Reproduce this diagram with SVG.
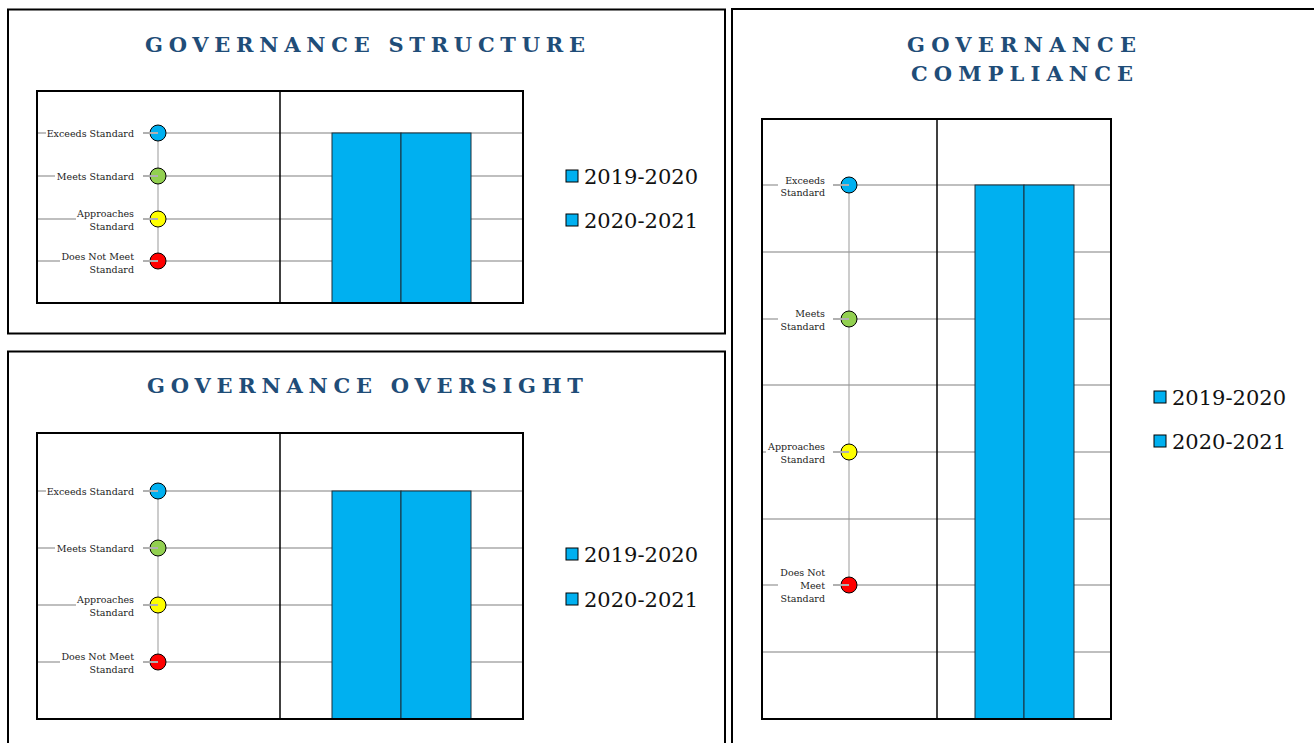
<svg xmlns="http://www.w3.org/2000/svg" width="1314" height="743" viewBox="0 0 1314 743">
<style>
.panel{fill:#fff;stroke:#000;stroke-width:2}
.box{fill:none;stroke:#000;stroke-width:2}
.div{stroke:#000;stroke-width:1.5}
.grid{stroke:#bfbfbf;stroke-width:2}
.conn{stroke:#999;stroke-width:1}
.lead{stroke:#b0b0b0;stroke-width:2}
.title{font-family:"DejaVu Serif","Liberation Serif",serif;font-weight:bold;font-size:21px;fill:#1f4d78;text-anchor:middle}
.lbl{font-family:"DejaVu Serif","Liberation Serif",serif;font-size:9.5px;fill:#222;text-anchor:end}
.leg{font-family:"DejaVu Serif","Liberation Serif",serif;font-size:21px;fill:#111}
.bar{fill:#00b0f0;stroke:#1a2e3a;stroke-width:1}
.sw{fill:#00b0f0;stroke:#000;stroke-width:1}
.dot{stroke:#000;stroke-width:1}
.bg{fill:#fff}
</style>
<rect width="1314" height="743" fill="#fff"/>

<g id="panel-structure">
<rect class="panel" x="8" y="9.5" width="717" height="324"/>
<text class="title" x="365" y="52" textLength="440" lengthAdjust="spacing">GOVERNANCE STRUCTURE</text>
<line class="grid" x1="37" y1="133" x2="523" y2="133"/>
<line class="grid" x1="37" y1="176" x2="523" y2="176"/>
<line class="grid" x1="37" y1="219" x2="523" y2="219"/>
<line class="grid" x1="37" y1="261" x2="523" y2="261"/>
<rect class="bg" x="46" y="126" width="97" height="14"/>
<rect class="bg" x="55" y="169" width="88" height="14"/>
<rect class="bg" x="76" y="207" width="67" height="26"/>
<rect class="bg" x="60" y="249" width="83" height="26"/>
<text class="lbl" x="134" y="137">Exceeds Standard</text>
<text class="lbl" x="134" y="180">Meets Standard</text>
<text class="lbl" x="134" y="217">Approaches</text>
<text class="lbl" x="134" y="230">Standard</text>
<text class="lbl" x="134" y="260">Does Not Meet</text>
<text class="lbl" x="134" y="273">Standard</text>
<line class="conn" x1="158" y1="133" x2="158" y2="261"/>
<circle class="dot" cx="158" cy="133" r="8" fill="#00b0f0"/>
<circle class="dot" cx="158" cy="176" r="8" fill="#92d050"/>
<circle class="dot" cx="158" cy="219" r="8" fill="#ffff00"/>
<circle class="dot" cx="158" cy="261" r="8" fill="#ff0000"/>
<line class="lead" x1="143" y1="133" x2="158" y2="133"/>
<line class="lead" x1="143" y1="176" x2="158" y2="176"/>
<line class="lead" x1="143" y1="219" x2="158" y2="219"/>
<line class="lead" x1="143" y1="261" x2="158" y2="261"/>
<rect class="bar" x="332" y="133" width="69" height="170"/>
<rect class="bar" x="401" y="133" width="70" height="170"/>
<line class="div" x1="280" y1="91" x2="280" y2="303"/>
<rect class="box" x="37" y="91" width="486" height="212"/>
<rect class="sw" x="566" y="170" width="12" height="12"/>
<text class="leg" x="584" y="184" textLength="114" lengthAdjust="spacingAndGlyphs">2019-2020</text>
<rect class="sw" x="566" y="214" width="12" height="12"/>
<text class="leg" x="584" y="228" textLength="114" lengthAdjust="spacingAndGlyphs">2020-2021</text>
</g>

<g id="panel-oversight">
<rect class="panel" x="8" y="351.5" width="717" height="400"/>
<text class="title" x="365" y="393" textLength="436" lengthAdjust="spacing">GOVERNANCE OVERSIGHT</text>
<line class="grid" x1="37" y1="491" x2="523" y2="491"/>
<line class="grid" x1="37" y1="548" x2="523" y2="548"/>
<line class="grid" x1="37" y1="605" x2="523" y2="605"/>
<line class="grid" x1="37" y1="662" x2="523" y2="662"/>
<rect class="bg" x="46" y="484" width="97" height="14"/>
<rect class="bg" x="55" y="541" width="88" height="14"/>
<rect class="bg" x="76" y="593" width="67" height="26"/>
<rect class="bg" x="60" y="650" width="83" height="26"/>
<text class="lbl" x="134" y="495">Exceeds Standard</text>
<text class="lbl" x="134" y="552">Meets Standard</text>
<text class="lbl" x="134" y="603">Approaches</text>
<text class="lbl" x="134" y="616">Standard</text>
<text class="lbl" x="134" y="660">Does Not Meet</text>
<text class="lbl" x="134" y="673">Standard</text>
<line class="conn" x1="158" y1="491" x2="158" y2="662"/>
<circle class="dot" cx="158" cy="491" r="8" fill="#00b0f0"/>
<circle class="dot" cx="158" cy="548" r="8" fill="#92d050"/>
<circle class="dot" cx="158" cy="605" r="8" fill="#ffff00"/>
<circle class="dot" cx="158" cy="662" r="8" fill="#ff0000"/>
<line class="lead" x1="143" y1="491" x2="158" y2="491"/>
<line class="lead" x1="143" y1="548" x2="158" y2="548"/>
<line class="lead" x1="143" y1="605" x2="158" y2="605"/>
<line class="lead" x1="143" y1="662" x2="158" y2="662"/>
<rect class="bar" x="332" y="491" width="69" height="228"/>
<rect class="bar" x="401" y="491" width="70" height="228"/>
<line class="div" x1="280" y1="433" x2="280" y2="719"/>
<rect class="box" x="37" y="433" width="486" height="286"/>
<rect class="sw" x="566" y="548" width="12" height="12"/>
<text class="leg" x="584" y="562" textLength="114" lengthAdjust="spacingAndGlyphs">2019-2020</text>
<rect class="sw" x="566" y="593" width="12" height="12"/>
<text class="leg" x="584" y="607" textLength="114" lengthAdjust="spacingAndGlyphs">2020-2021</text>
</g>

<g id="panel-compliance">
<rect class="panel" x="732" y="9" width="600" height="750"/>
<text class="title" x="1021.5" y="52" textLength="229" lengthAdjust="spacing">GOVERNANCE</text>
<text class="title" x="1022" y="81" textLength="222" lengthAdjust="spacing">COMPLIANCE</text>
<line class="grid" x1="762" y1="185" x2="1111" y2="185"/>
<line class="grid" x1="762" y1="252" x2="1111" y2="252"/>
<line class="grid" x1="762" y1="319" x2="1111" y2="319"/>
<line class="grid" x1="762" y1="385" x2="1111" y2="385"/>
<line class="grid" x1="762" y1="452" x2="1111" y2="452"/>
<line class="grid" x1="762" y1="519" x2="1111" y2="519"/>
<line class="grid" x1="762" y1="585" x2="1111" y2="585"/>
<line class="grid" x1="762" y1="652" x2="1111" y2="652"/>
<rect class="bg" x="778" y="174" width="56" height="24"/>
<rect class="bg" x="778" y="307" width="56" height="24"/>
<rect class="bg" x="766" y="440" width="68" height="24"/>
<rect class="bg" x="778" y="566" width="56" height="38"/>
<text class="lbl" x="825" y="184">Exceeds</text>
<text class="lbl" x="825" y="196">Standard</text>
<text class="lbl" x="825" y="317">Meets</text>
<text class="lbl" x="825" y="330">Standard</text>
<text class="lbl" x="825" y="450">Approaches</text>
<text class="lbl" x="825" y="463">Standard</text>
<text class="lbl" x="825" y="576">Does Not</text>
<text class="lbl" x="825" y="589">Meet</text>
<text class="lbl" x="825" y="602">Standard</text>
<line class="conn" x1="849" y1="185" x2="849" y2="585"/>
<circle class="dot" cx="849" cy="185" r="8" fill="#00b0f0"/>
<circle class="dot" cx="849" cy="319" r="8" fill="#92d050"/>
<circle class="dot" cx="849" cy="452" r="8" fill="#ffff00"/>
<circle class="dot" cx="849" cy="585" r="8" fill="#ff0000"/>
<line class="lead" x1="833" y1="185" x2="849" y2="185"/>
<line class="lead" x1="833" y1="319" x2="849" y2="319"/>
<line class="lead" x1="833" y1="452" x2="849" y2="452"/>
<line class="lead" x1="833" y1="585" x2="849" y2="585"/>
<rect class="bar" x="975" y="185" width="49" height="534"/>
<rect class="bar" x="1024" y="185" width="50" height="534"/>
<line class="div" x1="937" y1="119" x2="937" y2="719"/>
<rect class="box" x="762" y="119" width="349" height="600"/>
<rect class="sw" x="1154" y="391" width="12" height="12"/>
<text class="leg" x="1172" y="405" textLength="114" lengthAdjust="spacingAndGlyphs">2019-2020</text>
<rect class="sw" x="1154" y="435" width="12" height="12"/>
<text class="leg" x="1172" y="449" textLength="114" lengthAdjust="spacingAndGlyphs">2020-2021</text>
</g>
</svg>
